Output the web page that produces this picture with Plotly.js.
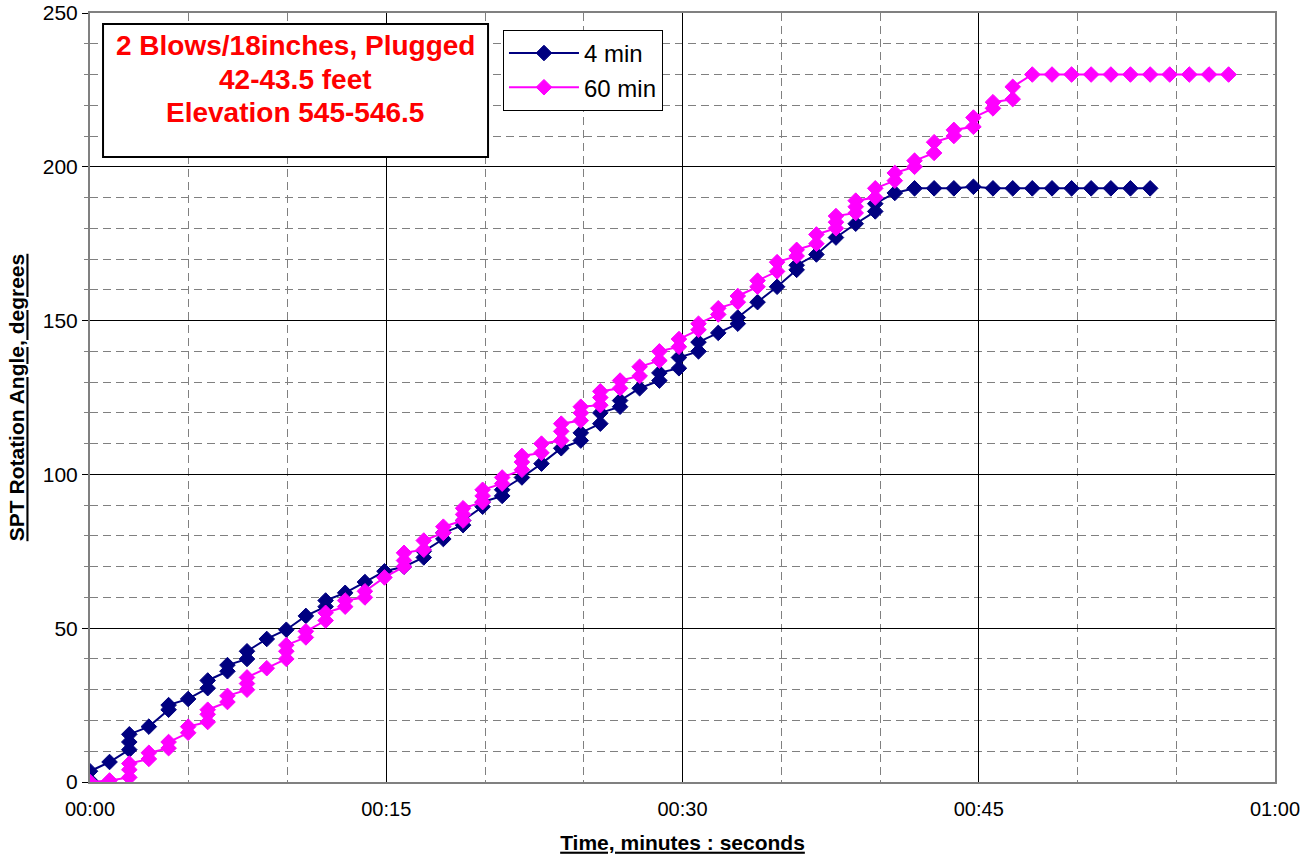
<!DOCTYPE html>
<html>
<head>
<meta charset="utf-8">
<script src="https://cdn.plot.ly/plotly-3.0.1.min.js"></script>
<style>html,body{margin:0;padding:0;background:#fff;}#chart{width:1315px;height:856px;}</style>
</head>
<body>
<div id="chart"></div>
<script>
// Time (seconds) and rotation angle (degrees); repeated times = stacked samples
const time4 = [0,0,0.99,1.99,1.99,1.99,2.98,3.98,3.98,4.97,5.96,5.96,6.96,6.96,7.95,7.95,8.95,9.94,10.93,11.93,11.93,12.92,13.92,14.91,15.9,16.9,16.9,17.89,17.89,18.89,18.89,19.88,19.88,20.87,20.87,21.87,22.86,23.86,24.85,24.85,25.84,25.84,26.84,26.84,27.83,28.83,28.83,29.82,29.82,30.81,30.81,31.81,32.8,32.8,33.8,34.79,35.78,35.78,36.78,37.77,38.77,39.76,39.76,40.75,41.75,42.74,43.74,44.73,45.72,46.72,47.71,48.71,49.7,50.69,51.69,52.68,53.68];
const angle4 = [0.5,3.5,6.5,10.5,13,15.5,18,23.5,25,27,30.5,33,36,38,40,42.5,46.5,49.5,54,57,59,61.5,65,68.5,70,73,75,79,81,83.5,85,89.5,91,93,95,99,103.5,108.5,111,113.5,116.5,120,122,124,128,130.5,133,134.5,138,140,143,146,149,151,156,161,166.5,168,171.5,177,181.5,185.5,188,191.5,193,193,193,193.5,193,193,193,193,193,193,193,193,193];

const time60 = [0,0.99,1.99,1.99,1.99,2.98,2.98,3.98,3.98,4.97,4.97,5.96,5.96,5.96,6.96,6.96,7.95,7.95,7.95,8.95,9.94,9.94,9.94,10.93,10.93,11.93,11.93,12.92,12.92,13.92,13.92,14.91,15.9,15.9,15.9,16.9,16.9,17.89,17.89,18.89,18.89,18.89,19.88,19.88,19.88,20.87,20.87,21.87,21.87,21.87,22.86,22.86,23.86,23.86,23.86,24.85,24.85,24.85,25.84,25.84,25.84,26.84,26.84,27.83,27.83,28.83,28.83,29.82,29.82,30.81,30.81,31.81,31.81,32.8,32.8,33.8,33.8,34.79,34.79,35.78,35.78,36.78,36.78,37.77,37.77,37.77,38.77,38.77,38.77,39.76,39.76,40.75,40.75,41.75,41.75,42.74,42.74,43.74,43.74,44.73,44.73,45.72,45.72,46.72,46.72,47.71,48.71,49.7,50.69,51.69,52.68,53.68,54.67,55.66,56.66,57.65];
const angle60 = [0,0.5,1.5,4,6,7.5,9.5,11,13,16,18,19.5,22,23.5,26,28,30,32,34,37,40,42.5,44.5,47,49,52.5,55,57,59,60,62,66.5,70,72,74.5,75.5,78.5,81,83,85,87,89,91,93,95,97,99,101.5,104,106,107,110,111,114,116.5,117.5,120,122,122.5,125,127,128,130.5,132,135,137,140,141.5,144,147,149,152,154,156,158,161,163,166,169,171,173,175,178,180,182,184,185,187,189,190,193,195.5,198,200,202,204.5,208,210,212,213,216,219,221,222,226,230,230,230,230,230,230,230,230,230,230,230];

const seriesNames = ['4 min', '60 min'];
const seriesColors = ['#000080', '#FF00FF'];
const xTickVals = [0, 15, 30, 45, 60];
const xTickText = ['00:00', '00:15', '00:30', '00:45', '01:00'];
const noteLines = ['2 Blows/18inches, Plugged', '42-43.5 feet', 'Elevation 545-546.5'];

const FONT = 'Liberation Sans, Arial, sans-serif';

function mk(x, y, i) {
  return {
    x: x, y: y, type: 'scatter', mode: 'lines+markers', name: seriesNames[i],
    legendgroup: 'g' + i,
    line: {color: seriesColors[i], width: 2},
    marker: {symbol: 'diamond', size: 12, color: seriesColors[i], line: {color: seriesColors[i], width: 1}},
    hoverinfo: 'skip'
  };
}

const data = [mk(time4, angle4, 0), mk(time60, angle60, 1)];

// paper y positions of the three note lines (centres)
const noteY = [0.958, 0.9129, 0.870];

const layout = {
  width: 1315, height: 856,
  margin: {l: 90, r: 40, t: 13, b: 74},
  paper_bgcolor: '#fff', plot_bgcolor: '#fff',
  font: {family: FONT, color: '#000'},
  showlegend: true,
  legend: {
    x: 0.3485, y: 0.978, xanchor: 'left', yanchor: 'top',
    bgcolor: '#fff', bordercolor: '#000', borderwidth: 1,
    font: {family: FONT, size: 24, color: '#000'},
    traceorder: 'grouped', tracegroupgap: 0, itemwidth: 70
  },
  xaxis: {
    range: [0, 60], tickmode: 'array', tickvals: xTickVals, ticktext: xTickText,
    showgrid: true, gridcolor: '#000', gridwidth: 1,
    minor: {tickmode: 'linear', tick0: 0, dtick: 5, showgrid: true, gridcolor: '#808080', griddash: '8px,5px', gridwidth: 1, ticks: ''},
    ticks: '', showline: true, linecolor: '#808080', linewidth: 2, mirror: true,
    zeroline: false, tickfont: {size: 20, family: FONT}, ticklabelstandoff: 8,
    title: {text: '<b><u>Time, minutes : seconds</u></b>', font: {size: 21, family: FONT}, standoff: 16}
  },
  yaxis: {
    range: [0, 250], tickmode: 'linear', tick0: 0, dtick: 50,
    showgrid: true, gridcolor: '#000', gridwidth: 1,
    minor: {tickmode: 'linear', tick0: 0, dtick: 10, showgrid: true, gridcolor: '#808080', griddash: '8px,5px', gridwidth: 1, ticks: 'outside', ticklen: 4, tickcolor: '#808080'},
    ticks: 'outside', ticklen: 6, tickcolor: '#000',
    showline: true, linecolor: '#808080', linewidth: 2, mirror: true,
    zeroline: false, tickfont: {size: 21, family: FONT},
    title: {text: '<b><u>SPT Rotation Angle, degrees</u></b>', font: {size: 21, family: FONT}, standoff: 12}
  },
  shapes: [{
    type: 'rect', xref: 'paper', yref: 'paper',
    x0: 0.011, x1: 0.3359, y0: 0.8127, y1: 0.9857,
    line: {color: '#000', width: 2}, fillcolor: '#fff', layer: 'above'
  }],
  annotations: noteLines.map((t, i) => ({
    xref: 'paper', yref: 'paper', x: 0.173, y: noteY[i], xanchor: 'center', yanchor: 'middle',
    text: '<b>' + t + '</b>', showarrow: false, align: 'center',
    font: {family: FONT, size: 28, color: '#FF0000'}
  }))
};

Plotly.newPlot('chart', data, layout, {displayModeBar: false, staticPlot: true});
</script>
</body>
</html>
